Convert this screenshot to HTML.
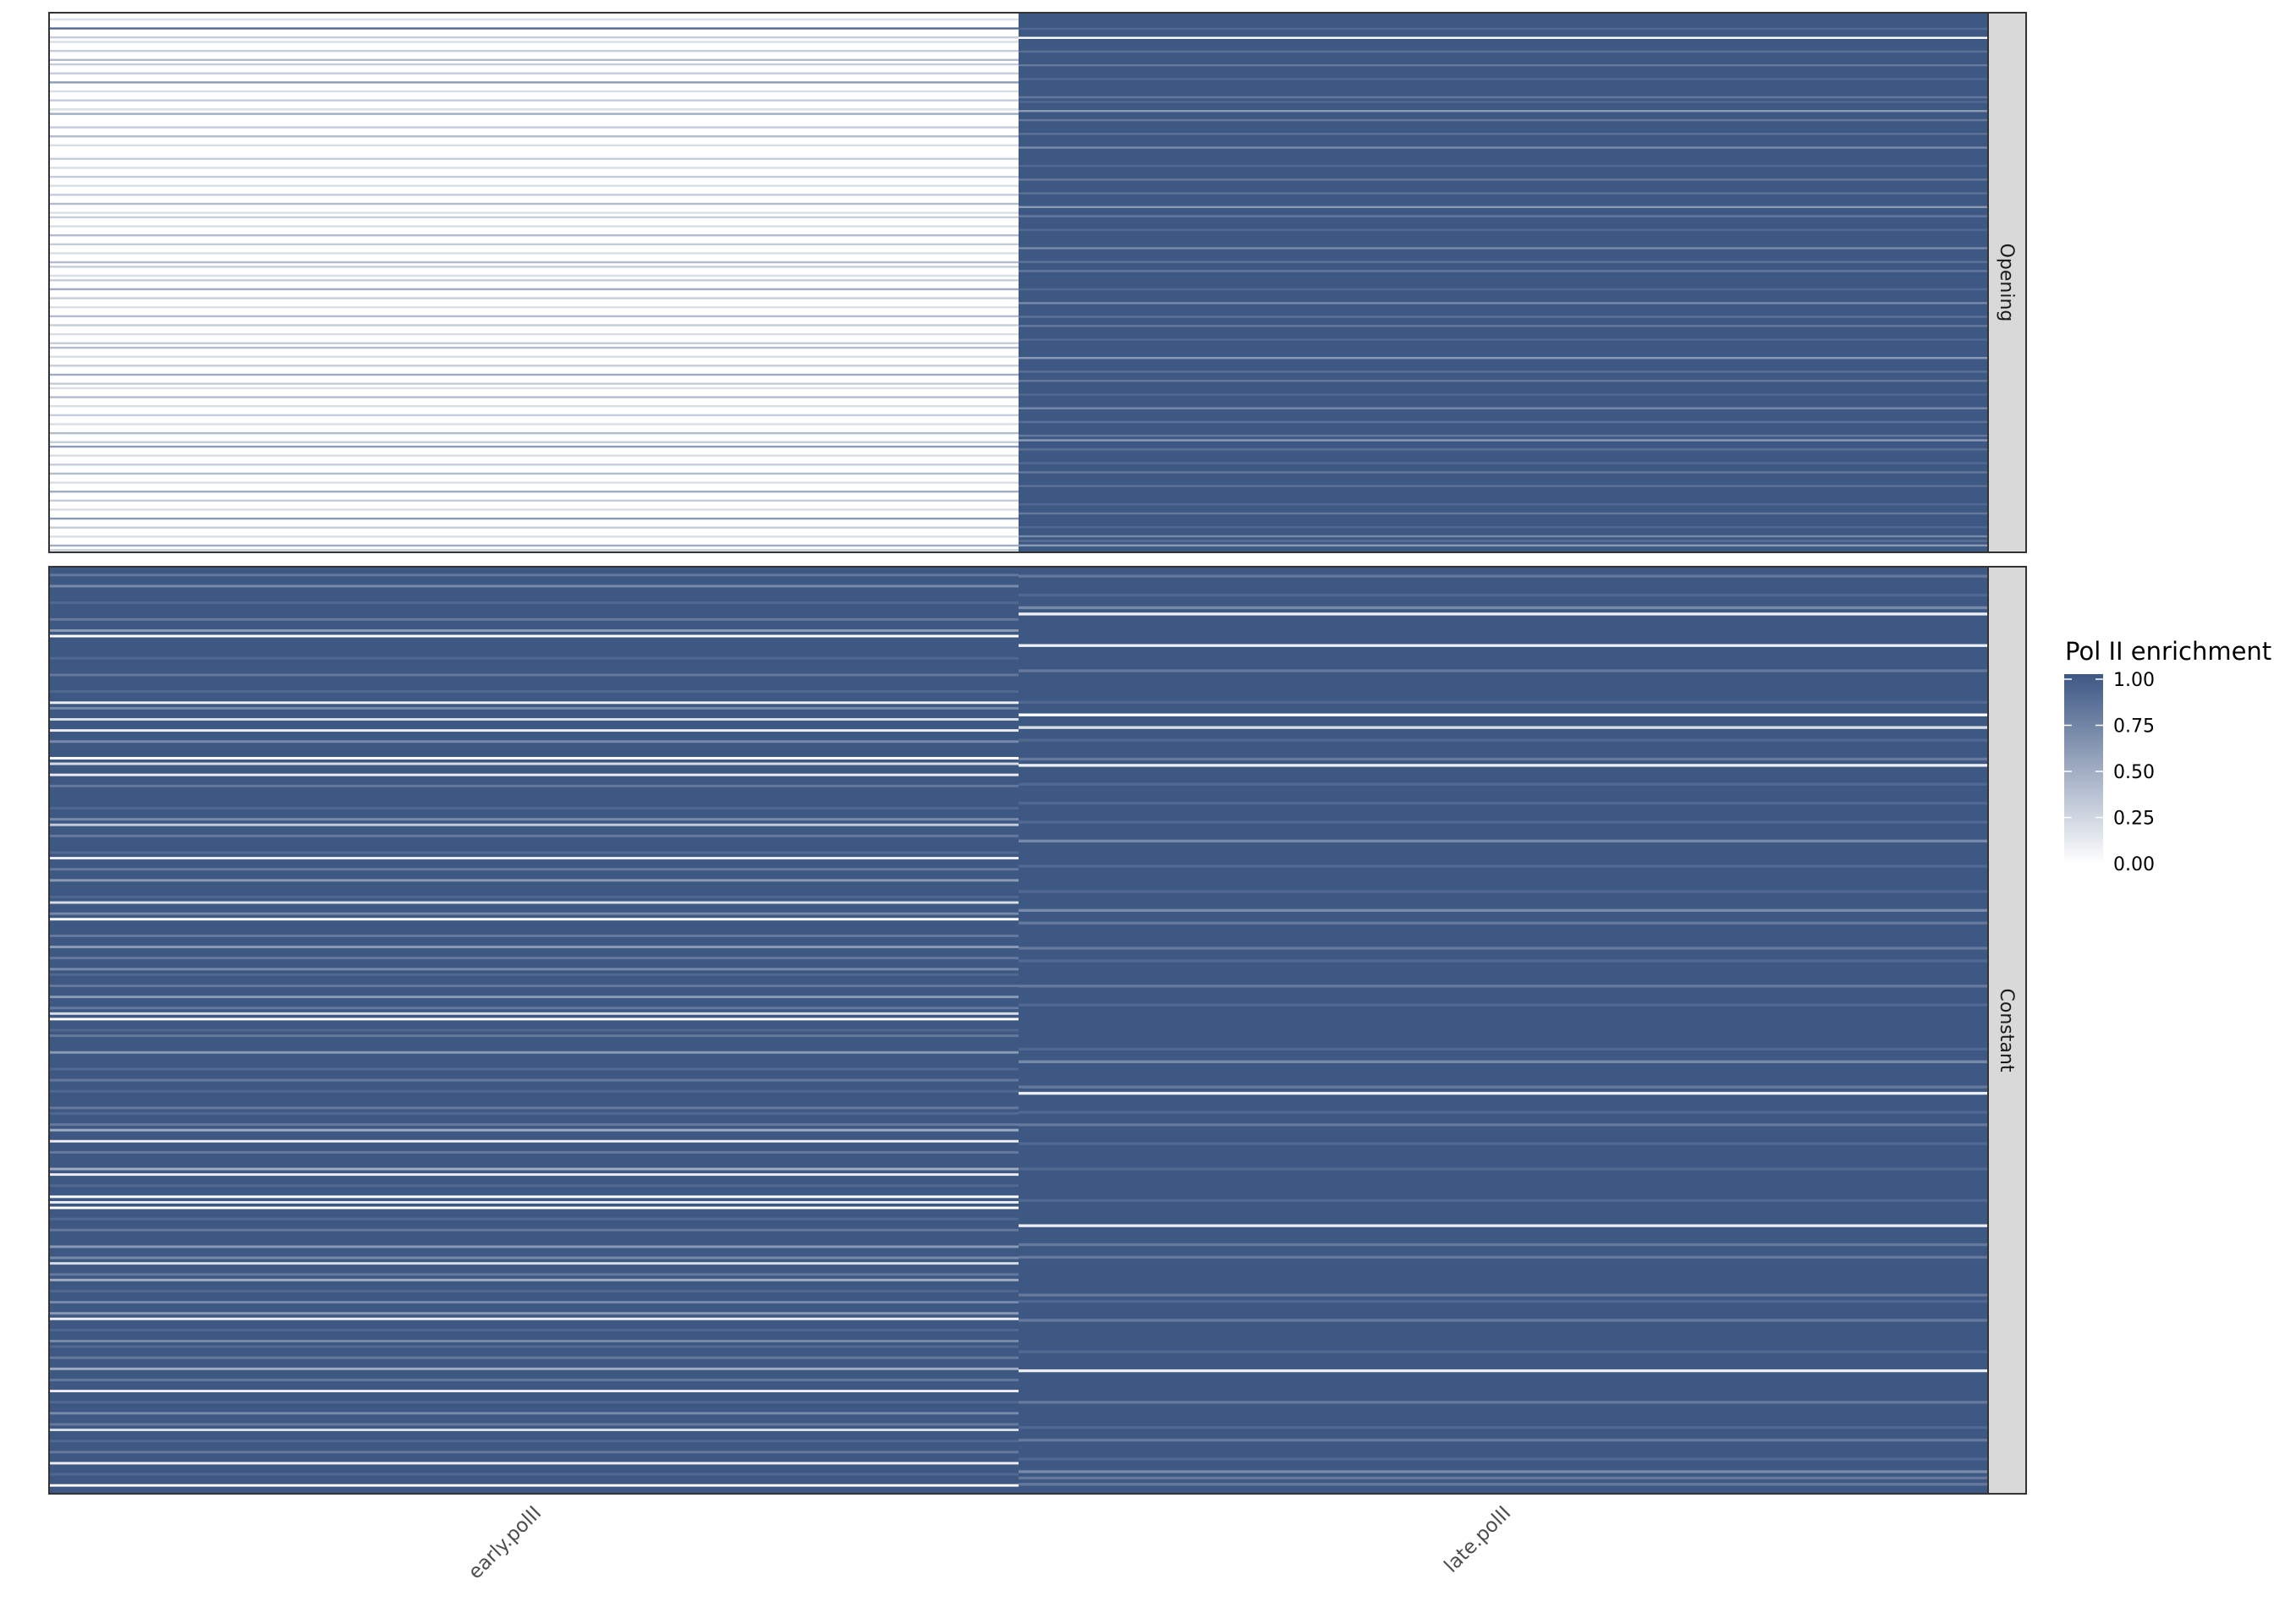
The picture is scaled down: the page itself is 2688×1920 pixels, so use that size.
<!DOCTYPE html>
<html><head><meta charset="utf-8"><style>
html,body{margin:0;padding:0;background:#fff;}
svg{display:block;font-family:"DejaVu Sans","Liberation Sans",sans-serif;}
</style></head><body>
<svg id="chart" width="2688" height="1920" viewBox="0 0 2688 1920" xmlns="http://www.w3.org/2000/svg">
<defs>
<linearGradient id="lg" x1="0" y1="1" x2="0" y2="0">
<stop offset="0" stop-color="#ffffff"/><stop offset="1" stop-color="#3e5884"/>
</linearGradient>
</defs>
<g id="cells"></g>
<rect x="58" y="15" width="2292" height="638" fill="none" stroke="#333" stroke-width="2"/>
<rect x="58" y="670" width="2292" height="1096" fill="none" stroke="#333" stroke-width="2"/>
<rect x="2350" y="15" width="45" height="638" fill="#d9d9d9" stroke="#333" stroke-width="2"/>
<rect x="2350" y="670" width="45" height="1096" fill="#d9d9d9" stroke="#333" stroke-width="2"/>
<text transform="translate(2365,334) rotate(90)" text-anchor="middle" font-size="22" fill="#1a1a1a">Opening</text>
<text transform="translate(2365,1218) rotate(90)" text-anchor="middle" font-size="22" fill="#1a1a1a">Constant</text>
<g id="xlabels"></g>
<g>
<text x="2441" y="780" font-size="29" fill="#000">Pol II enrichment</text>
<rect x="2440" y="797" width="46" height="224" fill="url(#lg)"/>
<g id="legticks"></g>
</g>
</svg>
<script>
const columns = ["early.polII", "late.polII"];
const legendTicks = [0, 0.25, 0.5, 0.75, 1];
const legendLabels = ["0.00", "0.25", "0.50", "0.75", "1.00"];
const earlyOpening = [0,0.2,0,0.9,0,0.3,0.2,0,0.3,0,0.4,0.3,0,0.3,0,0.6,0,0.2,0,0.3,0,0.2,0.5,0,0,0.3,0,0.4,0,0.2,0,0,0.3,0,0.2,0,0.3,0,0.2,0,0.3,0,0.4,0,0.2,0.3,0,0.2,0,0.4,0,0.3,0,0.2,0,0.4,0.3,0,0.2,0.3,0,0.5,0,0.3,0,0.2,0,0.4,0,0.3,0,0.2,0,0.3,0.4,0,0.2,0,0.3,0,0.5,0,0.3,0.2,0,0.4,0,0.2,0,0.3,0,0.2,0,0.4,0,0.3,0.6,0,0.2,0,0.3,0,0.4,0,0.2,0,0.5,0,0.3,0,0.2,0,0.6,0,0.3,0,0.2,0,0.5,0.3];
const lateOpening = [1,1,1,0.9,1,0,1,1,0.85,1,1,0.8,1,1,0.9,1,1,1,0.8,0.9,1,0.6,1,0.8,1,1,0.85,1,1,0.7,1,1,1,0.9,1,1,0.8,1,1,0.85,1,1,0.6,1,0.8,1,1,0.9,1,1,1,0.7,1,1,0.85,1,0.8,1,1,1,0.9,1,1,0.7,1,1,0.85,1,0.8,1,1,0.9,1,1,1,0.6,1,1,0.85,1,0.8,1,1,0.9,1,1,0.7,1,1,0.85,1,1,0.8,0.6,1,0.85,1,1,0.9,1,0.8,1,1,0.85,1,1,1,0.9,1,0.8,1,1,0.9,1,0.7,0.85,0.6,1];
const earlyConstant = [1,0.8,1,0.7,1,1,0.9,1,1,0.8,1,0.6,0,1,1,1,0.9,1,1,0.8,1,1,0.9,1,0.1,0.7,1,0.2,1,0.1,1,0.7,1,1,0,0.2,1,0.1,1,0.8,1,1,1,0.9,1,0.7,0.3,1,0.8,1,1,0.9,0.1,1,0.8,1,0.6,1,1,0.9,0.2,1,0.7,0,1,1,0.8,1,0.6,1,0.8,1,0.7,0.9,1,0.8,1,0.6,1,0.8,0.2,0,1,0.9,0.8,1,1,0.6,1,1,0.9,1,0.8,1,0.9,1,1,0.8,0.9,1,0.8,0.5,1,0.1,1,0.8,1,1,0.5,0.1,1,0.9,1,0,0.1,0,1,0.9,1,0.8,1,1,0.6,1,0.7,0.2,1,0.8,0.5,1,0.9,1,0.7,1,0.6,0.1,1,0.9,1,0.7,0.9,1,0.8,1,0.5,1,0.8,1,0.1,1,0.9,1,0.7,1,0.8,0.2,1,0.9,1,0.8,1,0.1,1,0.9,1,0,1];
const lateConstant = [1,0.8,1,1,0.9,1,0.7,0.1,1,1,1,1,0.1,1,1,1,0.8,1,1,1,1,0.9,1,0,1,0.2,1,0.9,1,1,0.8,0.1,1,1,0.9,1,1,0.9,1,1,0.9,1,1,0.7,1,1,1,0.9,1,1,1,0.9,1,1,0.7,1,0.8,1,1,1,0.8,1,0.9,1,1,1,0.8,1,1,0.9,1,1,1,1,1,1,0.9,1,0.7,1,1,1,0.8,0.1,1,1,0.9,1,0.8,1,1,0.9,1,1,1,0.9,1,1,1,1,0.9,1,1,1,0.1,1,1,0.8,1,0.8,1,1,1,1,1,0.8,0.9,1,1,0.8,1,1,1,1,0.9,1,1,0.1,1,1,1,1,0.8,1,1,1,0.9,1,0.8,1,1,0.9,1,0.7,0.8,0.8,1];

const NS = "http://www.w3.org/2000/svg";
const panelX0 = 58, panelX1 = 2350;
const colW = (panelX1 - panelX0) / columns.length;
function xPos(i){ return panelX0 + i * colW; }
function color(v){
  const lo=[255,255,255], hi=[62,88,132];
  const c = lo.map((l,k)=>Math.round(l+(hi[k]-l)*v));
  return "rgb("+c.join(",")+")";
}
function mostCommon(arr){
  const cnt = {};
  arr.forEach(v => { cnt[v] = (cnt[v]||0)+1; });
  return +Object.keys(cnt).sort((a,b)=>cnt[b]-cnt[a])[0];
}
const cells = document.getElementById("cells");
function drawPanel(series, y0, h){
  series.forEach((arr, ci) => {
    const base = mostCommon(arr);
    const bg = document.createElementNS(NS, "rect");
    bg.setAttribute("x", xPos(ci)); bg.setAttribute("y", y0);
    bg.setAttribute("width", colW + 0.5); bg.setAttribute("height", h);
    bg.setAttribute("fill", color(base));
    
    
    cells.appendChild(bg);
    const rh = h / arr.length;
    arr.forEach((v, ri) => {
      if (v === base) return;
      const lh = Math.max(1.5, rh * 0.45);
      const r = document.createElementNS(NS, "rect");
      r.setAttribute("x", xPos(ci));
      r.setAttribute("y", y0 + ri * rh + (rh - lh) / 2);
      r.setAttribute("width", colW + 0.5);
      r.setAttribute("height", lh);
      r.setAttribute("fill", color(v));
      
      
      cells.appendChild(r);
    });
  });
}
drawPanel([earlyOpening, lateOpening], 15, 638);
drawPanel([earlyConstant, lateConstant], 670, 1096);

const xl = document.getElementById("xlabels");
columns.forEach((c, i) => {
  const cx = xPos(i) + colW / 2 + 10;
  const t = document.createElementNS(NS, "text");
  t.setAttribute("transform", "translate(" + cx + ",1790) rotate(-45)");
  t.setAttribute("text-anchor", "end");
  t.setAttribute("font-size", "23");
  t.setAttribute("fill", "#4d4d4d");
  t.textContent = c;
  
  
  xl.appendChild(t);
});

const lt = document.getElementById("legticks");
const barTop = 803, barBot = 1021;
function legY(v){ return barBot - (barBot - barTop) * v; }
legendTicks.forEach((v, i) => {
  const y = legY(v);
  [[2440,2449],[2477,2486]].forEach(([a,b]) => {
    const l = document.createElementNS(NS, "line");
    l.setAttribute("x1", a); l.setAttribute("x2", b);
    l.setAttribute("y1", y); l.setAttribute("y2", y);
    l.setAttribute("stroke", "#fff"); l.setAttribute("stroke-width", "1.5");
    
    
    lt.appendChild(l);
  });
  const t = document.createElementNS(NS, "text");
  t.setAttribute("x", 2498);
  t.setAttribute("y", y + 8);
  t.setAttribute("font-size", "22");
  t.setAttribute("fill", "#000");
  t.textContent = legendLabels[i];
  
  
  lt.appendChild(t);
});
</script>
</body></html>
